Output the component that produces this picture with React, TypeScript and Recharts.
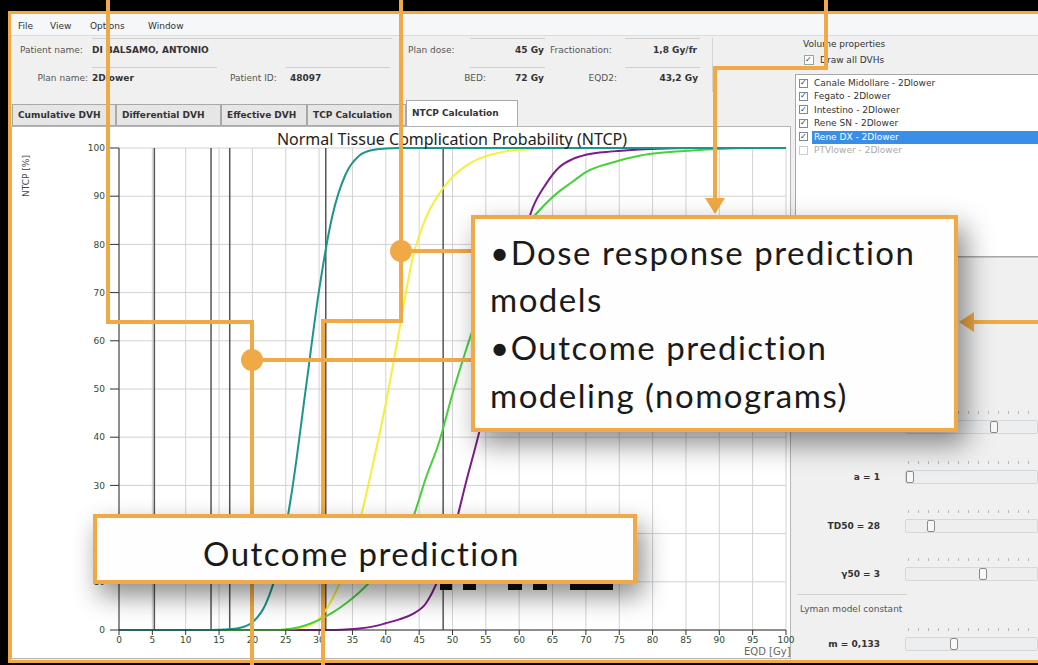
import React from 'react';
import { LineChart, Line, XAxis, YAxis, CartesianGrid, ReferenceLine } from 'recharts';

// EQD [Gy] sample points shared by all curves
const doses = [0, 10, 14, 16, 18, 20, 22, 24, 26, 28, 30, 32, 34, 36, 38, 40, 42, 44, 46, 48, 50, 52, 54, 56, 58, 60, 62, 64, 66, 68, 70, 74, 78, 82, 86, 90, 95, 100];

// NTCP [%], one array per organ curve
const ntcpTeal = [0, 0, 0, 0.1, 0.4, 1.6, 5.4, 14, 29.5, 50, 70.5, 86, 94.6, 98.4, 99.6, 99.9, 100, 100, 100, 100, 100, 100, 100, 100, 100, 100, 100, 100, 100, 100, 100, 100, 100, 100, 100, 100, 100, 100];
const ntcpYellow = [0, 0, 0, 0, 0, 0, 0, 0, 0.2, 0.7, 2.3, 6.5, 13, 22, 34, 47, 62, 77, 85.5, 90.5, 94, 96.3, 97.8, 98.7, 99.3, 99.6, 99.8, 99.9, 100, 100, 100, 100, 100, 100, 100, 100, 100, 100];
const ntcpGreen = [0, 0, 0, 0, 0, 0, 0, 0, 0.3, 1, 2.1, 3.6, 5.5, 7.8, 10.5, 13.5, 17.5, 23, 31.5, 39, 49, 58, 66, 72.5, 78, 82.5, 85.5, 88.5, 91, 93, 95, 97, 98.4, 99.1, 99.5, 99.8, 100, 100];
const ntcpPurple = [0, 0, 0, 0, 0, 0, 0, 0, 0, 0, 0, 0, 0.1, 0.3, 0.7, 1.4, 2.2, 3.3, 5.5, 11, 19.5, 30.5, 41, 53, 65, 78, 87.5, 92.5, 96, 97.7, 98.6, 99.3, 99.7, 99.9, 100, 100, 100, 100];

// dark vertical markers drawn in the plot
const markerDoses = [5.3, 13.8, 16.6, 31, 48.6];

const xTicks = [0, 5, 10, 15, 20, 25, 30, 35, 40, 45, 50, 55, 60, 65, 70, 75, 80, 85, 90, 95, 100];
const yTicks = [0, 10, 20, 30, 40, 50, 60, 70, 80, 90, 100];

const organs = [
  'Canale Midollare - 2Dlower',
  'Fegato - 2Dlower',
  'Intestino - 2Dlower',
  'Rene SN - 2Dlower',
  'Rene DX - 2Dlower',
  'PTVlower - 2Dlower',
];
const tabs = ['Cumulative DVH', 'Differential DVH', 'Effective DVH', 'TCP Calculation', 'NTCP Calculation'];
const menus = ['File', 'View', 'Options', 'Window'];

const data = doses.map((d, i) => ({
  dose: d,
  teal: ntcpTeal[i],
  yellow: ntcpYellow[i],
  green: ntcpGreen[i],
  purple: ntcpPurple[i],
}));

const ORANGE = '#f0a946';
const UI_FONT = '"DejaVu Sans", Tahoma, sans-serif';
const CALLOUT_FONT = 'Lato, "Open Sans", sans-serif';

function T({ x, y, children, bold, right, color, size }: any) {
  return (
    <div
      style={{
        position: 'absolute',
        left: x,
        top: y,
        transform: right ? 'translate(-100%, -50%)' : 'translate(0, -50%)',
        fontFamily: UI_FONT,
        fontSize: size || 9,
        fontWeight: bold ? 700 : 400,
        color: color || '#333',
        whiteSpace: 'nowrap',
        lineHeight: 1,
      }}
    >
      {children}
    </div>
  );
}

function Box({ x, y, w, h, bg, border, style }: any) {
  return (
    <div
      style={{
        position: 'absolute',
        left: x,
        top: y,
        width: w,
        height: h,
        background: bg,
        border: border,
        boxSizing: 'border-box',
        ...style,
      }}
    />
  );
}

function Slider({ y, label, thumb }: any) {
  return (
    <>
      {label && <T x={880} y={y} right bold>{label}</T>}
      {Array.from({ length: 13 }).map((_, i) => (
        <Box key={i} x={908 + i * 10} y={y - 16} w={1} h={3} bg="#b8b8b8" />
      ))}
      <Box x={905} y={y - 7} w={133} h={14} bg="#eceeef" border="1px solid #d4d6d8" style={{ borderRadius: 2 }} />
      <Box x={thumb} y={y - 6} w={8} h={12} bg="#f8f8f8" border="1px solid #8a8a8a" style={{ borderRadius: 2 }} />
    </>
  );
}

export default function App() {
  return (
    <div style={{ position: 'fixed', left: 0, top: 0, width: 1038, height: 665, background: '#000', overflow: 'hidden' }}>
      {/* application window */}
      <Box x={8} y={11} w={1040} h={652} bg="#f0f0f0" border={`3px solid ${ORANGE}`} />
      {/* menu bar */}
      <Box x={11} y={14} w={1030} h={22} bg="#f6f7f9" style={{ borderBottom: '1px solid #dcdcdc' }} />
      {menus.map((m, i) => (
        <T key={m} x={[18, 50, 90, 148][i]} y={26}>{m}</T>
      ))}

      {/* plan info */}
      <Box x={92} y={38} w={300} h={1} bg="#cfcfcf" />
      <Box x={92} y={67} w={125} h={1} bg="#cfcfcf" />
      <Box x={286} y={67} w={104} h={1} bg="#cfcfcf" />
      <Box x={470} y={38} w={75} h={1} bg="#cfcfcf" />
      <Box x={470} y={67} w={75} h={1} bg="#cfcfcf" />
      <Box x={625} y={38} w={75} h={1} bg="#cfcfcf" />
      <Box x={625} y={67} w={75} h={1} bg="#cfcfcf" />
      <Box x={712} y={38} w={1} h={54} bg="#d4d4d4" />
      <T x={20} y={50} color="#555">Patient name:</T>
      <T x={92} y={50} bold>DI BALSAMO, ANTONIO</T>
      <T x={88} y={78} right color="#555">Plan name:</T>
      <T x={92} y={78} bold>2Dlower</T>
      <T x={230} y={78} color="#555">Patient ID:</T>
      <T x={290} y={78} bold>48097</T>
      <T x={408} y={50} color="#555">Plan dose:</T>
      <T x={544} y={50} right bold>45 Gy</T>
      <T x={550} y={50} color="#555">Fractionation:</T>
      <T x={697} y={50} right bold>1,8 Gy/fr</T>
      <T x={486} y={78} right color="#555">BED:</T>
      <T x={544} y={78} right bold>72 Gy</T>
      <T x={617} y={78} right color="#555">EQD2:</T>
      <T x={698} y={78} right bold>43,2 Gy</T>

      {/* tabs */}
      {tabs.map((t, i) => {
        const lefts = [12, 116, 221, 307, 406];
        const widths = [104, 105, 86, 99, 112];
        const active = i === 4;
        return (
          <React.Fragment key={t}>
            <Box
              x={lefts[i]}
              y={active ? 100 : 104}
              w={widths[i]}
              h={active ? 27 : 22}
              bg={active ? '#ffffff' : '#e6e6e6'}
              border="1px solid #a9a9a9"
              style={{ borderBottom: active ? 'none' : '1px solid #a9a9a9' }}
            />
            <T x={lefts[i] + 6} y={active ? 113 : 115} bold>{t}</T>
          </React.Fragment>
        );
      })}

      {/* chart panel */}
      <Box x={11} y={126} w={780} h={533} bg="#ffffff" border="1px solid #b5b5b5" />
      <div style={{ position: 'absolute', left: 10, top: 127 }}>
        <LineChart width={792} height={531} data={data} margin={{ top: 21, right: 16, bottom: 6, left: 79 }}>
          <CartesianGrid stroke="#d2d2d2" strokeWidth={1} />
          <XAxis
            dataKey="dose"
            type="number"
            domain={[0, 100]}
            ticks={xTicks}
            interval={0}
            height={22}
            tickSize={5}
            tick={{ fontSize: 9, fill: '#2f4a2f', fontFamily: UI_FONT }}
            axisLine={{ stroke: '#333' }}
            tickLine={{ stroke: '#333' }}
          />
          <YAxis
            type="number"
            domain={[0, 100]}
            ticks={yTicks}
            interval={0}
            width={30}
            tickSize={9}
            tickMargin={5}
            tick={{ fontSize: 9, fill: '#2f4a2f', fontFamily: UI_FONT }}
            axisLine={{ stroke: '#333' }}
            tickLine={{ stroke: '#333' }}
          />
          {markerDoses.map((d) => (
            <ReferenceLine key={d} x={d} stroke="#555" strokeWidth={1.5} />
          ))}
          <Line type="monotone" dataKey="purple" stroke="#7e1a8c" strokeWidth={2} dot={false} isAnimationActive={false} />
          <Line type="monotone" dataKey="yellow" stroke="#f4f03a" strokeWidth={2} dot={false} isAnimationActive={false} />
          <Line type="monotone" dataKey="green" stroke="#46d13a" strokeWidth={2} dot={false} isAnimationActive={false} />
          <Line type="monotone" dataKey="teal" stroke="#1c968a" strokeWidth={2} dot={false} isAnimationActive={false} />
        </LineChart>
      </div>
      <div
        style={{
          position: 'absolute',
          left: 452,
          top: 139,
          transform: 'translate(-50%, -50%)',
          fontFamily: '"Noto Sans", sans-serif',
          fontSize: 16,
          color: '#222',
          whiteSpace: 'nowrap',
        }}
      >
        Normal Tissue Complication Probability (NTCP)
      </div>
      <div
        style={{
          position: 'absolute',
          left: 26,
          top: 176,
          transform: 'translate(-50%, -50%) rotate(-90deg)',
          fontFamily: UI_FONT,
          fontSize: 9,
          color: '#445',
          whiteSpace: 'nowrap',
        }}
      >
        NTCP [%]
      </div>
      <T x={744} y={652} color="#666" size={10}>EQD [Gy]</T>

      {/* hidden big text remnants */}
      {[[440, 12], [463, 13], [508, 14], [533, 14], [570, 43]].map(([x, w]) => (
        <Box key={x} x={x} y={584} w={w} h={6} bg="#111" />
      ))}

      {/* right panel */}
      <T x={803} y={44}>Volume properties</T>
      <Box x={804} y={55} w={10} h={10} bg="#fff" border="1px solid #8aa" />
      <T x={805} y={60} color="#236" size={8}>✓</T>
      <T x={820} y={60}>Draw all DVHs</T>
      <Box x={795} y={74} w={250} h={183} bg="#ffffff" border="1px solid #a8a8a8" />
      <Box x={812} y={131} w={230} h={13} bg="#3a8ee6" />
      {organs.map((o, i) => {
        const y = 83 + i * 13.4;
        const disabled = i === 5;
        return (
          <React.Fragment key={o}>
            <Box x={799} y={y - 4.5} w={9} h={9} bg="#fff" border={`1px solid ${disabled ? '#ccc' : '#7a8a9a'}`} />
            {!disabled && <T x={800} y={y} color="#235" size={8}>✓</T>}
            <T x={814} y={y} color={disabled ? '#aaa' : i === 4 ? '#fff' : '#333'}>{o}</T>
          </React.Fragment>
        );
      })}
      <Box x={795} y={257} w={250} h={1} bg="#c8c8c8" />
      <Slider y={427} label="" thumb={990} />
      <Slider y={477} label="a = 1" thumb={906} />
      <Slider y={526} label="TD50 = 28" thumb={927} />
      <Slider y={574} label={'\u03b350 = 3'} thumb={979} />
      <Box x={797} y={594} w={110} h={1} bg="#d0d0d0" />
      <T x={800} y={609} color="#555">Lyman model constant</T>
      <Slider y={644} label="m = 0,133" thumb={950} />

      {/* connectors */}
      <svg width={1038} height={665} style={{ position: 'absolute', left: 0, top: 0 }}>
        <g stroke={ORANGE} strokeWidth={4} fill="none">
          <path d="M108,0 V322 H252 V665" />
          <path d="M401,0 V321 H323 V665" />
          <path d="M252,360 H472" />
          <path d="M401,251 H472" />
          <path d="M826,0 V68 H715 V202" />
          <path d="M1038,322 H972" />
        </g>
        <g fill={ORANGE}>
          <circle cx={252} cy={360} r={11} />
          <circle cx={401} cy={251} r={11} />
          <polygon points="705,198 725,198 715,214" />
          <polygon points="974,312 974,332 959,322" />
        </g>
      </svg>

      {/* callouts */}
      <div
        style={{
          position: 'absolute',
          left: 471,
          top: 215,
          width: 487,
          height: 217,
          background: '#fefefe',
          border: `4px solid ${ORANGE}`,
          boxSizing: 'border-box',
          boxShadow: '8px 12px 26px rgba(0,0,0,0.45)',
          fontFamily: CALLOUT_FONT,
          fontSize: 33,
          letterSpacing: 1.5,
          color: '#1a1a1a',
        }}
      >
        {['\u2022Dose response prediction', 'models', '\u2022Outcome prediction', 'modeling (nomograms)'].map((l, i) => (
          <div key={i} style={{ position: 'absolute', left: 15, top: [13, 60, 108, 156][i], whiteSpace: 'nowrap', lineHeight: '40px' }}>
            {l}
          </div>
        ))}
      </div>
      <div
        style={{
          position: 'absolute',
          left: 93,
          top: 514,
          width: 544,
          height: 70,
          background: '#fefefe',
          border: `4px solid ${ORANGE}`,
          boxSizing: 'border-box',
          boxShadow: '6px 12px 26px rgba(0,0,0,0.45)',
          fontFamily: CALLOUT_FONT,
          fontSize: 33,
          letterSpacing: 1.5,
          color: '#1a1a1a',
          paddingLeft: 106,
          paddingTop: 6,
          lineHeight: '58px',
          whiteSpace: 'nowrap',
        }}
      >
        Outcome prediction
      </div>
    </div>
  );
}
